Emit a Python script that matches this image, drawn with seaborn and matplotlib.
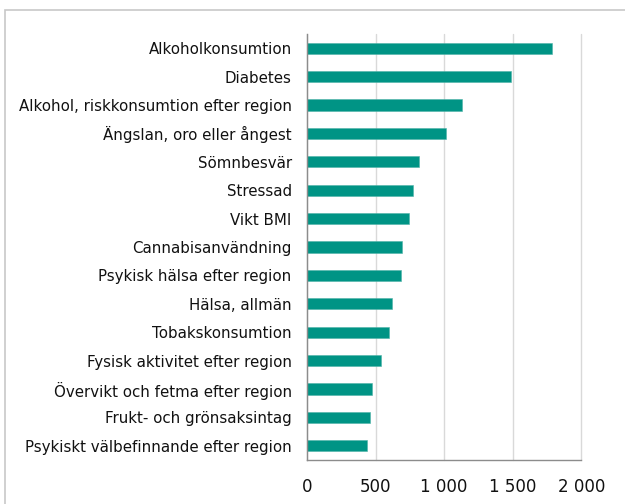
import matplotlib
matplotlib.use("Agg")
import matplotlib.pyplot as plt
import matplotlib.ticker as mticker
import seaborn as sns
import pandas as pd

kategorier = ["Alkoholkonsumtion",
              "Diabetes",
              "Alkohol, riskkonsumtion efter region",
              "Ängslan, oro eller ångest",
              "Sömnbesvär",
              "Stressad",
              "Vikt BMI",
              "Cannabisanvändning",
              "Psykisk hälsa efter region",
              "Hälsa, allmän",
              "Tobakskonsumtion",
              "Fysisk aktivitet efter region",
              "Övervikt och fetma efter region",
              "Frukt- och grönsaksintag",
              "Psykiskt välbefinnande efter region"]
antal = [1785, 1485, 1127, 1015, 818, 774, 745, 691, 684, 616, 601, 540, 474, 458, 436]
xticks = [0, 500, 1000, 1500, 2000]

df = pd.DataFrame({"Kategori": kategorier, "Antal": antal})

sns.set_style("white")
plt.rcParams['font.family'] = ['DejaVu Sans']

fig = plt.figure(figsize=(6.25, 5.04), dpi=100)
ax = fig.add_axes([0.4912, 0.0873, 0.4390, 0.8452])

sns.barplot(data=df, x="Antal", y="Kategori", color="#009485", width=0.39,
            edgecolor="#4fb3a8", linewidth=0.4, saturation=1, ax=ax)

ax.set_xlim(0, 2000)
ax.set_xticks(xticks)
ax.xaxis.set_major_formatter(mticker.FuncFormatter(lambda v, p: f"{int(v):,}".replace(",", " ")))
ax.set_xlabel("")
ax.set_ylabel("")
ax.grid(axis="x", color="#d9d9d9", linewidth=1)
for gl in ax.get_xgridlines():
    gl.set_clip_on(False)
ax.set_axisbelow(True)
for s in ["top", "right"]:
    ax.spines[s].set_visible(False)
for s in ["left", "bottom"]:
    ax.spines[s].set_color("#8c8c8c")
    ax.spines[s].set_linewidth(1)
ax.tick_params(axis="x", length=5, width=1, color="#8c8c8c", labelsize=12, pad=8, labelcolor="#111111")
ax.tick_params(axis="y", length=0, labelsize=10.8, pad=11, labelcolor="#111111")

# ram runt figuren
fig.patches.append(plt.Rectangle((5 / 625, -0.1), 1.2, 1 - 10 / 504 + 0.1, transform=fig.transFigure,
                                 fill=False, edgecolor="#c8c8c8", linewidth=1.2))

fig.savefig("out.png", dpi=100)
